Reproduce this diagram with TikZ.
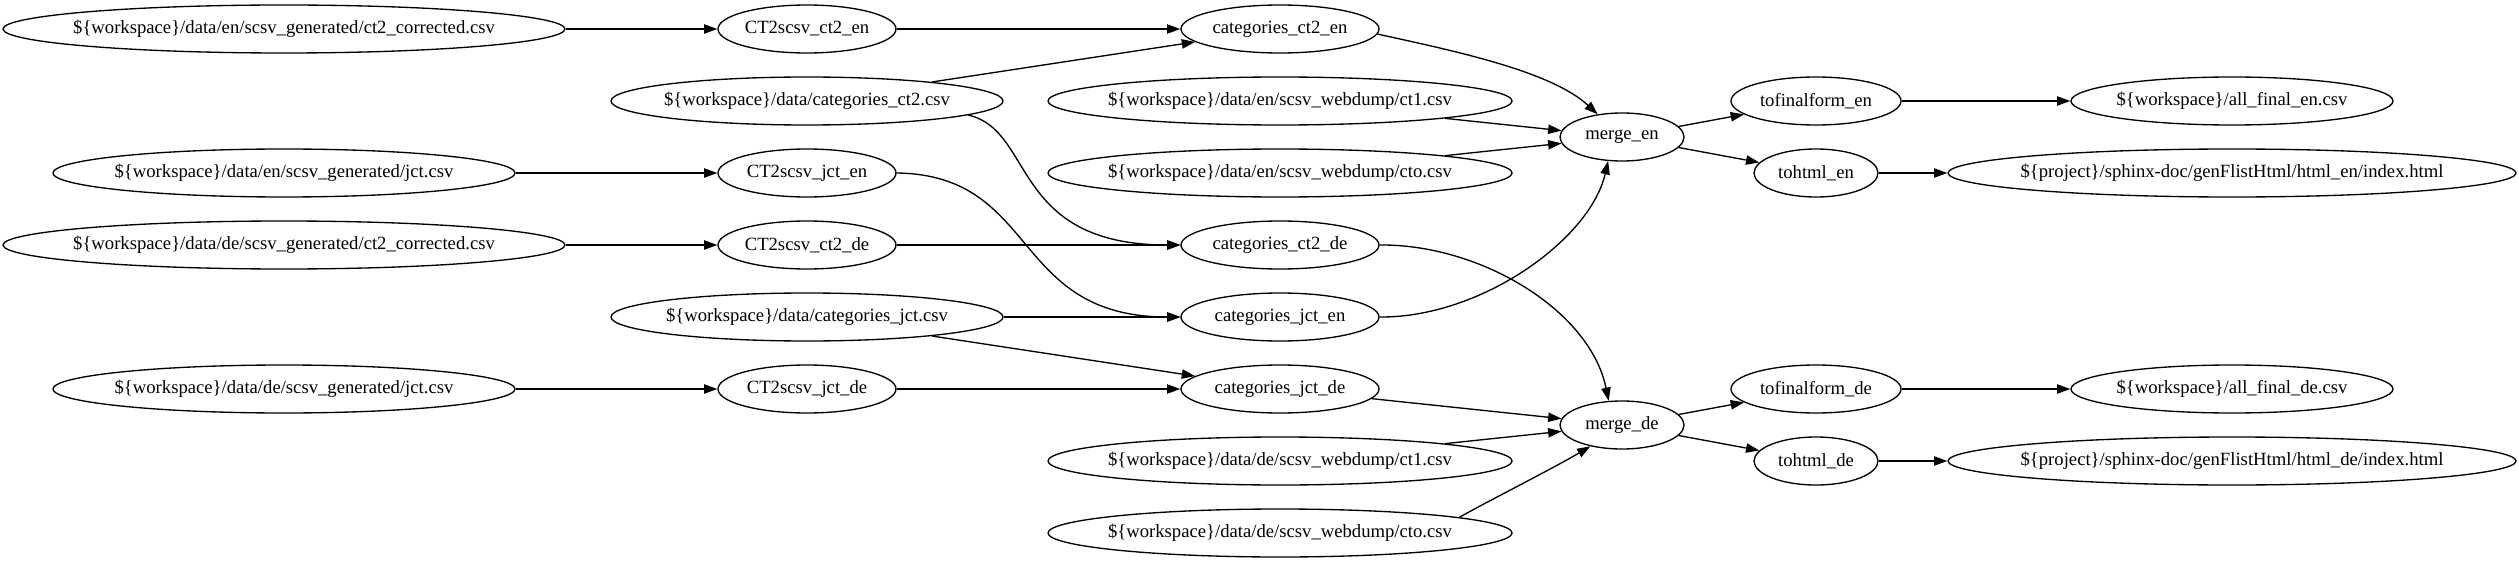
\documentclass[tikz,border=0pt]{standalone}
\usepackage{fontspec}
\setmainfont{Liberation Serif}
\usetikzlibrary{arrows.meta,shapes.geometric}
\newcommand{\glab}[1]{\makebox[0pt]{#1}}
\begin{document}
\begin{tikzpicture}[x=0.75pt,y=-0.75pt,
  gv/.style={draw, ellipse, line width=1pt, inner sep=0pt, minimum height=36pt,
             font=\fontsize{14}{16}\selectfont},
  hw/.style={minimum width=#1*1.5pt},
  gvarrow/.style={-{Triangle[length=10pt,width=7pt]}, line width=1pt}]
\useasboundingbox (0,0) rectangle (2519,563);
% rank 0
\node[gv,hw=281] (a1) at (284,29)  {\glab{\$\{workspace\}/data/en/scsv\_generated/ct2\_corrected.csv}};
\node[gv,hw=231] (a2) at (284,173) {\glab{\$\{workspace\}/data/en/scsv\_generated/jct.csv}};
\node[gv,hw=281] (a3) at (284,245) {\glab{\$\{workspace\}/data/de/scsv\_generated/ct2\_corrected.csv}};
\node[gv,hw=231] (a4) at (284,389) {\glab{\$\{workspace\}/data/de/scsv\_generated/jct.csv}};
% rank 1
\node[gv,hw=89]  (b1)   at (807,29)  {\glab{CT2scsv\_ct2\_en}};
\node[gv,hw=196] (cat2) at (807,101) {\glab{\$\{workspace\}/data/categories\_ct2.csv}};
\node[gv,hw=89]  (b2)   at (807,173) {\glab{CT2scsv\_jct\_en}};
\node[gv,hw=89]  (b3)   at (807,245) {\glab{CT2scsv\_ct2\_de}};
\node[gv,hw=196] (catj) at (807,317) {\glab{\$\{workspace\}/data/categories\_jct.csv}};
\node[gv,hw=89]  (b4)   at (807,389) {\glab{CT2scsv\_jct\_de}};
% rank 2
\node[gv,hw=99]  (c1) at (1280,29)  {\glab{categories\_ct2\_en}};
\node[gv,hw=232] (w1) at (1280,101) {\glab{\$\{workspace\}/data/en/scsv\_webdump/ct1.csv}};
\node[gv,hw=232] (w2) at (1280,173) {\glab{\$\{workspace\}/data/en/scsv\_webdump/cto.csv}};
\node[gv,hw=99]  (c2) at (1280,245) {\glab{categories\_ct2\_de}};
\node[gv,hw=99]  (c3) at (1280,317) {\glab{categories\_jct\_en}};
\node[gv,hw=99]  (c4) at (1280,389) {\glab{categories\_jct\_de}};
\node[gv,hw=232] (w3) at (1280,461) {\glab{\$\{workspace\}/data/de/scsv\_webdump/ct1.csv}};
\node[gv,hw=232] (w4) at (1280,533) {\glab{\$\{workspace\}/data/de/scsv\_webdump/cto.csv}};
% rank 3
\node[gv,hw=62] (m1) at (1622,137) {\glab{merge\_en}};
\node[gv,hw=62] (m2) at (1622,425) {\glab{merge\_de}};
% rank 4
\node[gv,hw=85] (t1) at (1816,101) {\glab{tofinalform\_en}};
\node[gv,hw=62] (h1) at (1816,173) {\glab{tohtml\_en}};
\node[gv,hw=85] (t2) at (1816,389) {\glab{tofinalform\_de}};
\node[gv,hw=62] (h2) at (1816,461) {\glab{tohtml\_de}};
% rank 5
\node[gv,hw=161] (f1) at (2232,101) {\glab{\$\{workspace\}/all\_final\_en.csv}};
\node[gv,hw=284] (p1) at (2232,173) {\glab{\$\{project\}/sphinx-doc/genFlistHtml/html\_en/index.html}};
\node[gv,hw=161] (f2) at (2232,389) {\glab{\$\{workspace\}/all\_final\_de.csv}};
\node[gv,hw=284] (p2) at (2232,461) {\glab{\$\{project\}/sphinx-doc/genFlistHtml/html\_de/index.html}};
% edges
\draw[gvarrow] (a1) -- (b1);
\draw[gvarrow] (a2) -- (b2);
\draw[gvarrow] (a3) -- (b3);
\draw[gvarrow] (a4) -- (b4);
\draw[gvarrow] (b1) -- (c1);
\draw[gvarrow] (cat2) -- (c1);
\draw[gvarrow] (cat2.-5.5) .. controls (1035,130) and (1010,245) .. (c2.west);
\draw[gvarrow] (b2.east) .. controls (1040,175) and (1010,317) .. (c3.west);
\draw[gvarrow] (b3) -- (c2);
\draw[gvarrow] (catj) -- (c3);
\draw[gvarrow] (catj) -- (c4);
\draw[gvarrow] (b4) -- (c4);
\draw[gvarrow] (c1.-3.5) .. controls (1460,52) and (1552,72) .. (m1.137);
\draw[gvarrow] (w1) -- (m1);
\draw[gvarrow] (w2) -- (m1);
\draw[gvarrow] (c3.east) .. controls (1480,318) and (1590,240) .. (m1.240.5);
\draw[gvarrow] (c2.east) .. controls (1480,244) and (1590,310) .. (m2.119.5);
\draw[gvarrow] (c4) -- (m2);
\draw[gvarrow] (w3) -- (m2);
\draw[gvarrow] (w4.5.8) .. controls (1490,500) and (1550,470) .. (m2.214.5);
\draw[gvarrow] (m1) -- (t1);
\draw[gvarrow] (m1) -- (h1);
\draw[gvarrow] (t1) -- (f1);
\draw[gvarrow] (h1) -- (p1);
\draw[gvarrow] (m2) -- (t2);
\draw[gvarrow] (m2) -- (h2);
\draw[gvarrow] (t2) -- (f2);
\draw[gvarrow] (h2) -- (p2);
\end{tikzpicture}
\end{document}
